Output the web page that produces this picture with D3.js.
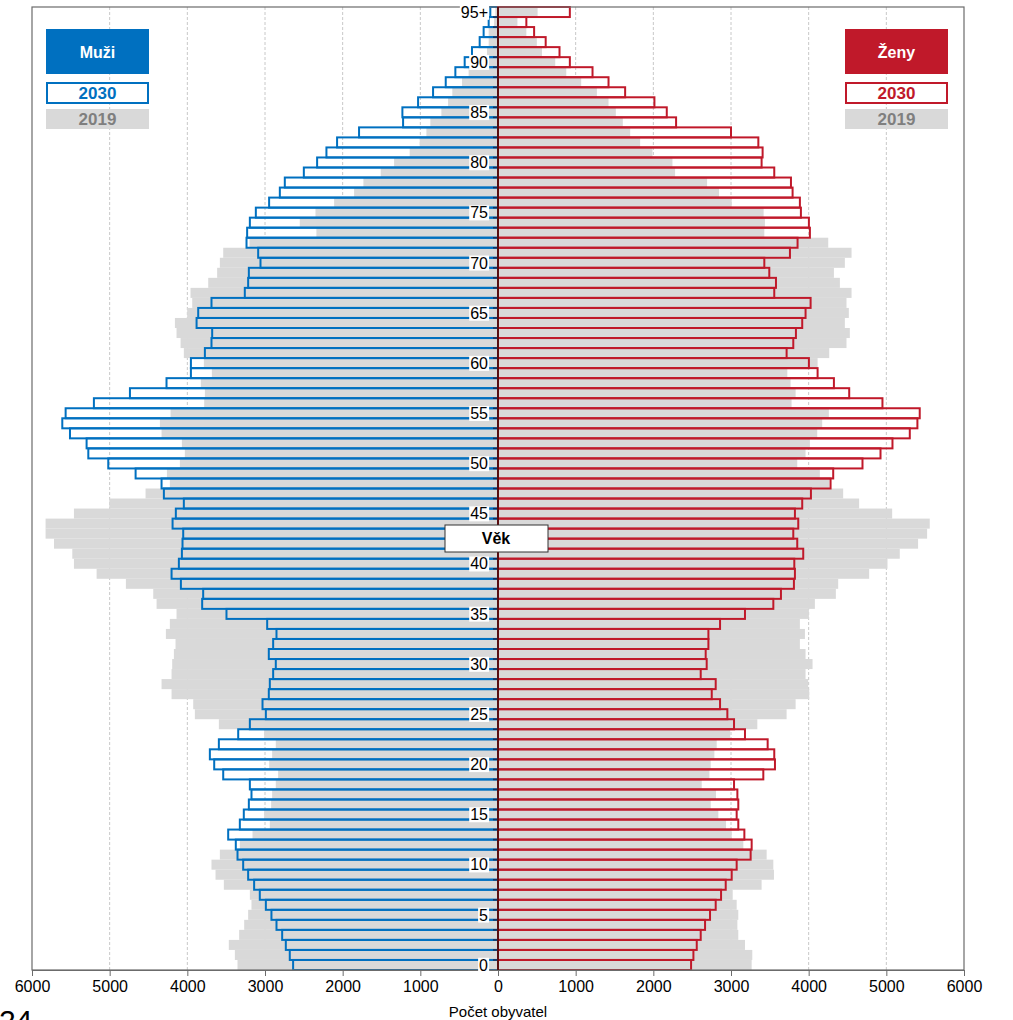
<!DOCTYPE html>
<html>
<head>
<meta charset="utf-8">
<script src="https://cdn.jsdelivr.net/npm/d3@7"></script>
<style>
  body { margin: 0; background: #fff; }
  svg { display: block; font-family: "Liberation Sans", Arial, sans-serif; }
</style>
</head>
<body>
<svg width="1013" height="1020"></svg>
<script>
// vek 0..95+ (index = vek)
var ages = d3.range(0, 96);

// muzi 2030 (projekce)
var men2030 = [2638,2681,2732,2779,2852,2917,2989,3067,3140,3217,
  3281,3354,3376,3474,3324,3273,3208,3174,3195,3538,
  3654,3710,3594,3345,3195,2989,3032,2951,2938,2895,
  2861,2951,2895,2852,2972,3496,3809,3796,4083,4203,
  4109,4070,4062,4053,4190,4148,4045,4302,4332,4666,
  5018,5275,5297,5511,5610,5567,5203,4739,4268,3954,
  3954,3774,3689,3680,3881,3860,3689,3260,3217,3208,
  3058,3088,3238,3230,3195,3118,2947,2809,2745,2500,
  2329,2209,2072,1789,1222,1231,1029,836,673,549,
  429,335,236,185,120,99];

// muzi 2019
var men2019 = [3354,3388,3466,3333,3268,3217,3174,3195,3530,3637,
  3689,3581,3324,3161,2938,3011,2921,2908,2861,2831,
  2946,2908,2861,3011,3594,3903,3924,4203,4332,4203,
  4195,4173,4152,4276,4225,4139,4396,4439,4791,5168,
  5460,5481,5717,5825,5825,5460,5005,4538,4225,4263,
  4096,4032,4070,4332,4353,4216,3783,3774,3826,3684,
  3787,4045,4087,4139,4160,4002,3937,3959,3731,3616,
  3581,3538,3200,2338,2552,2350,2110,1853,1733,1510,
  1338,1137,1008,922,871,729,643,588,463,378,
  185,142,120,120,50,34];

// zeny 2030 (projekce)
var women2030 = [2486,2516,2559,2610,2666,2730,2803,2872,2932,3009,
  3073,3253,3266,3172,3094,3073,3094,3082,3039,3416,
  3566,3557,3472,3180,3039,2953,2859,2752,2803,2610,
  2687,2674,2709,2709,2859,3180,3545,3643,3810,3823,
  3815,3930,3853,3802,3866,3823,3917,4029,4282,4316,
  4693,4925,5079,5302,5400,5430,4950,4522,4325,4115,
  4003,3716,3802,3836,3917,3960,4025,3557,3579,3493,
  3429,3759,3857,4016,4003,3900,3887,3793,3772,3557,
  3394,3407,3352,3000,2293,2173,2014,1637,1423,1217,
  925,792,614,465,365,925];

// zeny 2019
var women2019 = [3266,3274,3180,3094,3082,3094,3073,3022,3394,3553,
  3545,3459,3159,3009,2936,2837,2739,2807,2623,2722,
  2739,2786,2816,2990,3339,3716,3832,4007,3994,3960,
  4050,3960,3887,3952,3887,4003,4080,4350,4380,4779,
  5015,5173,5409,5525,5559,5075,4650,4444,4265,4144,
  3853,3960,4016,4110,4174,4260,3780,3832,3767,3725,
  4115,4265,4487,4530,4466,4517,4487,4552,4402,4325,
  4466,4552,4252,3429,3437,3420,3009,2846,2692,2280,
  2246,1989,1830,1702,1607,1517,1423,1273,1071,879,
  737,566,500,365,250,510];

var xTicks = [-6000,-5000,-4000,-3000,-2000,-1000,0,1000,2000,3000,4000,5000,6000];
var ageTicks = [0,5,10,15,20,25,30,35,40,45,50,55,60,65,70,75,80,85,90,95];

var blue = "#0070c0", red = "#c0192a", grey = "#d9d9d9";

var svg = d3.select("svg");
var plotL = 32, plotR = 964, plotT = 7, plotB = 970;

var x = d3.scaleLinear().domain([-6000, 6000]).range([plotL, plotR]);
var y = d3.scaleBand().domain(ages.slice().reverse()).range([plotT, plotB]).padding(0);
var x0 = x(0);

// mrizka
svg.append("g").selectAll("line")
  .data(xTicks.filter(function(d){ return d !== 0 && Math.abs(d) < 6000; }))
  .enter().append("line")
  .attr("x1", function(d){ return x(d); }).attr("x2", function(d){ return x(d); })
  .attr("y1", plotT).attr("y2", plotB)
  .attr("stroke", "#c8c8c8").attr("stroke-dasharray", "3,2");

// 2019 sede sloupce
var g19 = svg.append("g");
g19.selectAll("rect.m").data(ages).enter().append("rect").attr("class", "m")
  .attr("x", function(d){ return x(-men2019[d]); })
  .attr("width", function(d){ return x0 - x(-men2019[d]); })
  .attr("y", function(d){ return y(d); })
  .attr("height", y.bandwidth())
  .attr("fill", grey);
g19.selectAll("rect.f").data(ages).enter().append("rect").attr("class", "f")
  .attr("x", x0)
  .attr("width", function(d){ return x(women2019[d]) - x0; })
  .attr("y", function(d){ return y(d); })
  .attr("height", y.bandwidth())
  .attr("fill", grey);

// 2030 obrysy
var g30 = svg.append("g");
g30.selectAll("rect.m").data(ages).enter().append("rect").attr("class", "m")
  .attr("x", function(d){ return x(-men2030[d]); })
  .attr("width", function(d){ return x0 - x(-men2030[d]); })
  .attr("y", function(d){ return y(d); })
  .attr("height", y.bandwidth())
  .attr("fill", "none").attr("stroke", blue).attr("stroke-width", 2);
g30.selectAll("rect.f").data(ages).enter().append("rect").attr("class", "f")
  .attr("x", x0)
  .attr("width", function(d){ return x(women2030[d]) - x0; })
  .attr("y", function(d){ return y(d); })
  .attr("height", y.bandwidth())
  .attr("fill", "none").attr("stroke", red).attr("stroke-width", 2);

// ramecek
svg.append("rect")
  .attr("x", plotL).attr("y", plotT)
  .attr("width", plotR - plotL).attr("height", plotB - plotT)
  .attr("fill", "none").attr("stroke", "#6b6b6b").attr("stroke-width", 1.2);

// osa x
var xAxis = svg.append("g").attr("transform", "translate(0," + plotB + ")")
  .call(d3.axisBottom(x).tickValues(xTicks).tickSize(6).tickPadding(5)
    .tickFormat(function(d){ return Math.abs(d); }));
xAxis.select(".domain").attr("stroke", "#6b6b6b");
xAxis.selectAll("line").attr("stroke", "#6b6b6b");
xAxis.selectAll("text").attr("font-size", 16).attr("fill", "#000")
  .attr("font-family", "'Liberation Sans', Arial, sans-serif");

svg.append("text").attr("x", x0).attr("y", 1017)
  .attr("text-anchor", "middle").attr("font-size", 15).text("Počet obyvatel");

// stredova osa
svg.append("g").selectAll("line")
  .data(ages.slice(0, 95))
  .enter().append("line")
  .attr("x1", x0 - 5).attr("x2", x0)
  .attr("y1", function(d){ return y(d); }).attr("y2", function(d){ return y(d); })
  .attr("stroke", "#1c2f55").attr("stroke-width", 1.5);
svg.append("line")
  .attr("x1", x0).attr("x2", x0).attr("y1", plotT).attr("y2", plotB)
  .attr("stroke", "#5a0d10").attr("stroke-width", 2);

// popisky veku
var ageLab = svg.append("g");
ageTicks.forEach(function(a){
  var t = ageLab.append("text")
    .attr("x", x0 - 10).attr("y", y(a) + y.bandwidth() / 2)
    .attr("dy", "0.36em").attr("text-anchor", "end")
    .attr("font-size", 16).text(a === 95 ? "95+" : a);
  var b = t.node().getBBox();
  ageLab.insert("rect", function(){ return t.node(); })
    .attr("x", b.x - 1).attr("y", b.y + 1)
    .attr("width", b.width + 2).attr("height", b.height - 2)
    .attr("fill", "#fff");
});

// Vek
svg.append("rect").attr("x", 445).attr("y", 525).attr("width", 103).attr("height", 27)
  .attr("fill", "#fff").attr("stroke", "#333").attr("stroke-width", 1);
svg.append("text").attr("x", 496).attr("y", 544).attr("text-anchor", "middle")
  .attr("font-size", 16).attr("font-weight", "bold").text("Věk");

// legenda
function legend(x1, title, col) {
  svg.append("rect").attr("x", x1).attr("y", 29).attr("width", 103).attr("height", 45).attr("fill", col);
  svg.append("text").attr("x", x1 + 51.5).attr("y", 58).attr("text-anchor", "middle")
    .attr("font-size", 16).attr("font-weight", "bold").attr("fill", "#fff").text(title);
  svg.append("rect").attr("x", x1 + 1).attr("y", 83).attr("width", 101).attr("height", 20)
    .attr("fill", "#fff").attr("stroke", col).attr("stroke-width", 2);
  svg.append("text").attr("x", x1 + 51.5).attr("y", 99).attr("text-anchor", "middle")
    .attr("font-size", 17).attr("font-weight", "bold").attr("fill", col).text("2030");
  svg.append("rect").attr("x", x1).attr("y", 109).attr("width", 103).attr("height", 20).attr("fill", grey);
  svg.append("text").attr("x", x1 + 51.5).attr("y", 125).attr("text-anchor", "middle")
    .attr("font-size", 17).attr("font-weight", "bold").attr("fill", "#7f7f7f").text("2019");
}
legend(46, "Muži", blue);
legend(845, "Ženy", red);

// cislo stranky (orizle)
svg.append("text").attr("x", -1).attr("y", 1031).attr("font-size", 30).text("24");
</script>
</body>
</html>
